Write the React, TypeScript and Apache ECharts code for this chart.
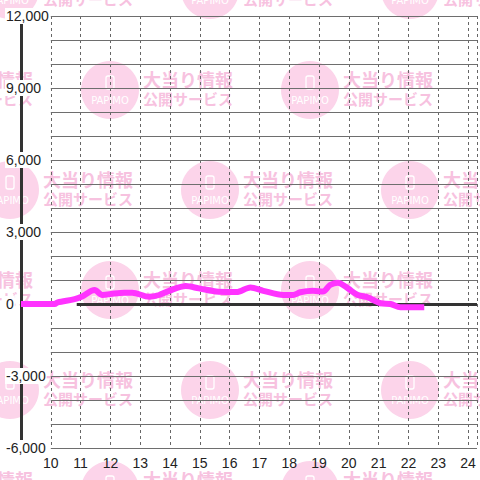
import React, { useEffect, useRef } from "react";
import * as echarts from "echarts";

const hours = [9, 10.13, 10.23, 10.8, 11.03, 11.47, 11.73, 12.13, 12.47, 12.73, 13.3, 13.63, 13.97, 14.53, 14.97, 15.63, 16.23, 16.7, 17.13, 17.8, 18.13, 18.37, 18.8, 19.13, 19.37, 19.63, 19.97, 20.3, 20.63, 21.07, 21.4, 21.73, 22.53];
const values = [0, 0, 70, 200, 300, 580, 375, 440, 470, 470, 300, 375, 550, 750, 650, 510, 500, 690, 550, 375, 375, 490, 550, 520, 790, 890, 650, 375, 280, 30, 0, -140, -140];
const gridValues = [-6000, -5000, -4000, -3000, -2000, -1000, 1000, 2000, 3000, 4000, 5000, 6000, 7000, 8000, 9000, 10000, 11000, 12000];
const xMin = 9;
const xMax = 24.3;
const yMin = -6000;
const yMax = 12000;

function watermark() {
  const els: any[] = [];
  for (let r = 0; r < 6; r++) {
    const cy = -10 + 100 * r;
    const xs = r % 2 === 0 ? [10, 210, 410] : [-90, 110, 310];
    for (const cx of xs) {
      els.push({ type: "circle", shape: { cx, cy, r: 29 }, style: { fill: "#fcd4ea" }, silent: true });
      els.push({
        type: "rect",
        shape: { x: cx - 4, y: cy - 14, width: 8, height: 13, r: 2 },
        style: { fill: "none", stroke: "#ffffff", lineWidth: 1.3 },
        silent: true,
      });
      els.push({
        type: "text",
        x: cx,
        y: cy + 10,
        style: { text: "PAPIMO", fill: "#ffffff", font: "10px 'DejaVu Sans', sans-serif", align: "center", verticalAlign: "middle" },
        silent: true,
      });
      els.push({
        type: "text",
        x: cx + 33,
        y: cy - 11,
        style: { text: "大当り情報", fill: "#f7c2df", font: "bold 18px 'Noto Sans CJK JP'", align: "left", verticalAlign: "middle" },
        silent: true,
      });
      els.push({
        type: "text",
        x: cx + 33,
        y: cy + 8,
        style: { text: "公開サービス", fill: "#f7c2df", font: "bold 15px 'Noto Sans CJK JP'", align: "left", verticalAlign: "middle" },
        silent: true,
      });
    }
  }
  return els;
}

export default function App() {
  const ref = useRef<HTMLDivElement>(null);
  useEffect(() => {
    const chart = echarts.init(ref.current!, undefined, { renderer: "svg" });
    const gridLines: any[] = gridValues.map((v) => [
      { coord: [10, v], lineStyle: { color: "#6e6e6e", width: 1, type: "solid" } },
      { coord: [xMax, v] },
    ]);
    gridLines.push([
      { coord: [10.87, 0], lineStyle: { color: "#333333", width: 3, type: "solid" } },
      { coord: [xMax, 0] },
    ]);
    chart.setOption({
      animation: false,
      backgroundColor: "#ffffff",
      textStyle: { fontFamily: "'Liberation Sans', Arial, sans-serif" },
      graphic: { z: 0, elements: watermark() },
      grid: { left: 21, right: 0, top: 16, bottom: 32, containLabel: false },
      xAxis: {
        type: "value",
        min: xMin,
        max: xMax,
        interval: 1,
        z: 1,
        axisLine: { show: false },
        axisTick: { show: false },
        axisLabel: {
          margin: 8,
          fontSize: 14,
          color: "#222",
          formatter: (v: number) => (Number.isInteger(v) && v >= 10 ? String(v) : ""),
        },
        splitLine: { show: true, lineStyle: { color: "#666", width: 1, type: [3, 3] } },
      },
      yAxis: {
        type: "value",
        min: yMin,
        max: yMax,
        interval: 3000,
        z: 1,
        axisLine: { show: true, onZero: false, lineStyle: { color: "#333", width: 3 } },
        axisTick: { show: false },
        splitLine: { show: false },
        axisLabel: {
          align: "left",
          margin: 16,
          fontSize: 14,
          color: "#222",
          backgroundColor: "#ffffff",
          padding: [1, 1],
          formatter: (v: number) => v.toLocaleString("en-US"),
        },
      },
      series: [
        {
          type: "line",
          data: hours.map((h, i) => [h, values[i]]),
          symbol: "none",
          smooth: 0.3,
          z: 3,
          lineStyle: { color: "#ff33ff", width: 6 },
          markLine: {
            silent: true,
            symbol: ["none", "none"],
            label: { show: false },
            animation: false,
            z: 2,
            data: gridLines,
          },
        },
      ],
    });
    return () => chart.dispose();
  }, []);
  return <div ref={ref} style={{ position: "absolute", left: 0, top: 0, width: 480, height: 480 }} />;
}
